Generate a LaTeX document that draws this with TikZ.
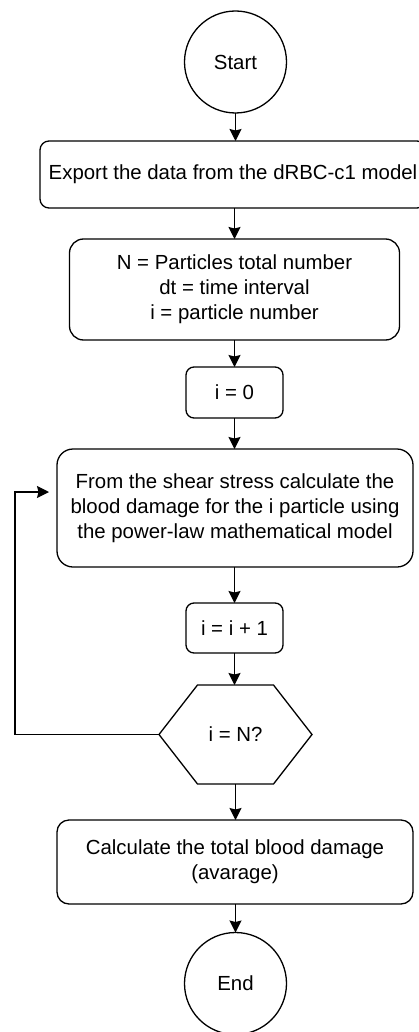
\documentclass[tikz,border=0pt]{standalone}
\usepackage{fontspec}
\setmainfont{Liberation Sans}
\usetikzlibrary{arrows.meta}
\tikzset{
  box/.style={draw, rounded corners=#1, align=center, inner sep=0pt, outer sep=0pt},
  box/.default=9pt,
  term/.style={draw, circle, minimum size=102pt, inner sep=0pt, outer sep=0pt},
  arr/.style={-{Stealth[length=12pt,width=12pt,inset=1.5pt]}},
}
\begin{document}
\begin{tikzpicture}[x=1pt,y=-1pt,line width=1.3pt,
    font=\fontsize{20.4}{25.2}\selectfont]
	    \useasboundingbox (0,0) rectangle (418,1032);
	    \node[term] (start) at (235.5,62) {Start};
	    \node[box, minimum width=386pt, minimum height=67pt] (export) at (233,174.5) {Export the data from the dRBC-c1 model};
	    \node[box=14pt, minimum width=330pt, minimum height=101pt] (vars) at (234.5,289.5) {N = Particles total number\\dt = time interval\\i = particle number};
	    \node[box=8pt, minimum width=97pt, minimum height=51pt] (init) at (234.5,392.5) {i = 0};
	    \node[box=16pt, minimum width=356pt, minimum height=118pt] (calc) at (235,508) {From the shear stress calculate the\\blood damage for the i particle using\\the power-law mathematical model};
	    \node[box=8pt, minimum width=97pt, minimum height=50pt] (incr) at (234.5,628) {i = i + 1};
	    \node[minimum width=153pt, minimum height=99pt, inner sep=0pt, outer sep=0pt] (chk) at (235.5,734.5) {i = N?};
	    \draw (chk.west) -- ([xshift=38.5pt]chk.north west) -- ([xshift=-38.5pt]chk.north east)
	      -- (chk.east) -- ([xshift=-38.5pt]chk.south east) -- ([xshift=38.5pt]chk.south west) -- cycle;
	    \node[box=12pt, minimum width=356pt, minimum height=84pt] (total) at (235,862) {Calculate the total blood damage\\(avarage)};
	    \node[term] (end) at (235.5,983.5) {End};
	    % main flow
	    \draw[arr] (start) -- (start|-export.north);
	    \draw[arr] (export.south-|vars) -- (vars);
	    \draw[arr] (vars) -- (init);
	    \draw[arr] (init) -- (init|-calc.north);
	    \draw[arr] (calc.south-|incr) -- (incr);
	    \draw[arr] (incr) -- (incr|-chk.north);
	    \draw[arr] (chk) -- (chk|-total.north);
	    \draw[arr] (total.south-|end) -- (end);
	    % loop back
	    \coordinate (lp) at (15,492);
	    \draw[arr, shorten >=8pt] (chk.west) -| (lp) -- ([yshift=16pt]calc.west);
	\end{tikzpicture}
\end{document}
